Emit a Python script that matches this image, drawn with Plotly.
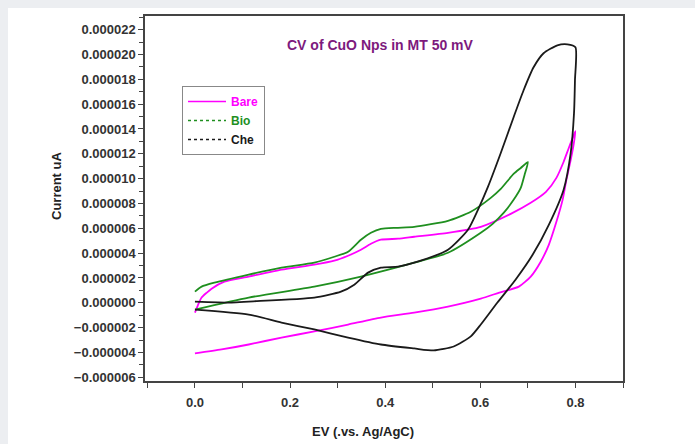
import plotly.graph_objects as go

# ---- data (E in V vs Ag/AgCl, current in A) ----
bare_E = [0.0, 0.006, 0.014, 0.025, 0.035, 0.062, 0.113, 0.182, 0.251, 0.293, 0.322, 0.349, 0.370, 0.391, 0.427, 0.461, 0.532, 0.601, 0.664, 0.706, 0.738, 0.760, 0.775, 0.786, 0.794, 0.800,
          0.796, 0.790, 0.781, 0.773, 0.760, 0.744, 0.727, 0.706, 0.681, 0.640, 0.601, 0.532, 0.461, 0.391, 0.322, 0.251, 0.182, 0.113, 0.056, 0.0]
bare_I = [-0.79, -0.22, 0.42, 0.82, 1.14, 1.70, 2.11, 2.67, 3.07, 3.39, 3.79, 4.27, 4.75, 5.08, 5.16, 5.32, 5.64, 6.12, 7.16, 8.05, 8.93, 10.06, 11.34, 12.47, 13.27, 13.83,
          12.71, 11.50, 9.90, 8.29, 6.52, 4.67, 3.31, 2.11, 1.30, 0.82, 0.34, -0.30, -0.79, -1.19, -1.75, -2.31, -2.80, -3.36, -3.76, -4.08]

bio_E = [0.0, 0.014, 0.041, 0.113, 0.182, 0.251, 0.293, 0.322, 0.349, 0.370, 0.391, 0.427, 0.461, 0.532, 0.580, 0.622, 0.643, 0.670, 0.685, 0.700,
         0.693, 0.685, 0.670, 0.649, 0.626, 0.601, 0.532, 0.461, 0.349, 0.251, 0.113, 0.0]
bio_I = [0.90, 1.30, 1.62, 2.27, 2.83, 3.23, 3.71, 4.11, 5.08, 5.64, 5.96, 6.04, 6.12, 6.60, 7.33, 8.45, 9.17, 10.38, 10.86, 11.34,
         10.30, 9.25, 8.29, 7.24, 6.36, 5.64, 4.03, 3.23, 2.11, 1.30, 0.42, -0.55]

che_E = [0.0, 0.077, 0.113, 0.251, 0.307, 0.335, 0.364, 0.391, 0.427, 0.461, 0.532, 0.574, 0.595, 0.616, 0.643, 0.670, 0.691, 0.712, 0.733, 0.762, 0.783, 0.800,
         0.799, 0.797, 0.790, 0.775, 0.744, 0.710, 0.674, 0.636, 0.601, 0.580, 0.544, 0.502, 0.461, 0.391, 0.322, 0.251, 0.182, 0.113, 0.0]
che_I = [0.10, 0.02, 0.10, 0.42, 0.90, 1.46, 2.43, 2.83, 2.91, 3.23, 4.27, 5.88, 7.49, 9.33, 12.06, 14.95, 17.12, 18.97, 20.10, 20.74, 20.82, 20.58,
         17.93, 15.27, 12.06, 9.09, 6.28, 3.87, 1.86, 0.02, -1.75, -2.71, -3.52, -3.84, -3.68, -3.36, -2.80, -2.15, -1.59, -0.95, -0.55]

series_names = ["Bare", "Bio", "Che"]
series_colors = ["#ff00ff", "#1f8f1f", "#1a1a1a"]
legend_dash = ["solid", "dot", "dot"]

title_text = "CV of CuO Nps in MT 50 mV"
x_title = "EV (.vs. Ag/AgC)"
y_title = "Current uA"

scale = 1e-6
data = [(bare_E, bare_I), (bio_E, bio_I), (che_E, che_I)]

fig = go.Figure()
for (E, I), name, col in zip(data, series_names, series_colors):
    fig.add_trace(go.Scatter(x=E, y=[v * scale for v in I], mode="lines",
                             line=dict(color=col, width=1.8, shape="spline", smoothing=0.6),
                             showlegend=False, hoverinfo="skip"))
for name, col, dash in zip(series_names, series_colors, legend_dash):
    fig.add_trace(go.Scatter(x=[None], y=[None], mode="lines",
                             line=dict(color=col, width=1.6, dash=dash),
                             name=f"<span style='color:{col}'><b>{name}</b></span>"))

L, R, T, B = 145, 72, 16, 63
W, H = 695, 444
pw, ph = W - L - R, H - T - B

def px(x):
    return (x - L) / pw

def py(y):
    return 1 - (y - T) / ph

axis_common = dict(showline=True, linecolor="#444", linewidth=1.5, mirror=True,
                   ticks="outside", ticklen=5, tickwidth=1.3, tickcolor="#444",
                   showgrid=False, zeroline=False,
                   tickfont=dict(family="Arial, Liberation Sans", size=13, color="#333", weight="bold"))

fig.update_layout(
    width=W, height=H,
    margin=dict(l=L, r=R, t=T, b=B),
    paper_bgcolor="white", plot_bgcolor="white",
    showlegend=True,
    legend=dict(x=px(182), y=py(86), xanchor="left", yanchor="top",
                bordercolor="#888", borderwidth=1, bgcolor="white",
                font=dict(family="Arial, Liberation Sans", size=12),
                itemwidth=38, tracegroupgap=0),
    xaxis=dict(range=[-0.105, 0.9], tick0=0, dtick=0.2, tickformat=".1f",
               ticklabelstandoff=4,
               minor=dict(dtick=0.1, ticks="outside", ticklen=5, tickcolor="#444", tickwidth=1.3),
               **axis_common),
    yaxis=dict(range=[-6.3e-6, 23.1e-6], tick0=0, dtick=2e-6, tickformat=".6f",
               minor=dict(dtick=1e-6, ticks="outside", ticklen=4, tickcolor="#444", tickwidth=1.3),
               **axis_common),
    annotations=[
        dict(text=f"<b>{title_text}</b>", x=px(380), y=py(45), xref="paper", yref="paper",
             xanchor="center", yanchor="middle",
             showarrow=False, font=dict(family="Arial, Liberation Sans", size=14, color="#7d1a7d")),
        dict(text=f"<b>{x_title}</b>", x=px(363), y=py(431), xref="paper", yref="paper",
             xanchor="center", yanchor="middle",
             showarrow=False, font=dict(family="Arial, Liberation Sans", size=13, color="#222")),
        dict(text=f"<b>{y_title}</b>", x=px(56), y=py(186), xref="paper", yref="paper",
             xanchor="center", yanchor="middle",
             showarrow=False, textangle=-90, font=dict(family="Arial, Liberation Sans", size=13, color="#222")),
    ],
    shapes=[
        dict(type="rect", xref="paper", yref="paper", x0=px(0), x1=px(8), y0=py(H), y1=py(0),
             fillcolor="#eceef1", line=dict(width=0), layer="below"),
        dict(type="rect", xref="paper", yref="paper", x0=px(0), x1=px(W), y0=py(8), y1=py(0),
             fillcolor="#eceef1", line=dict(width=0), layer="below"),
    ],
)

fig.write_html("out.html")
